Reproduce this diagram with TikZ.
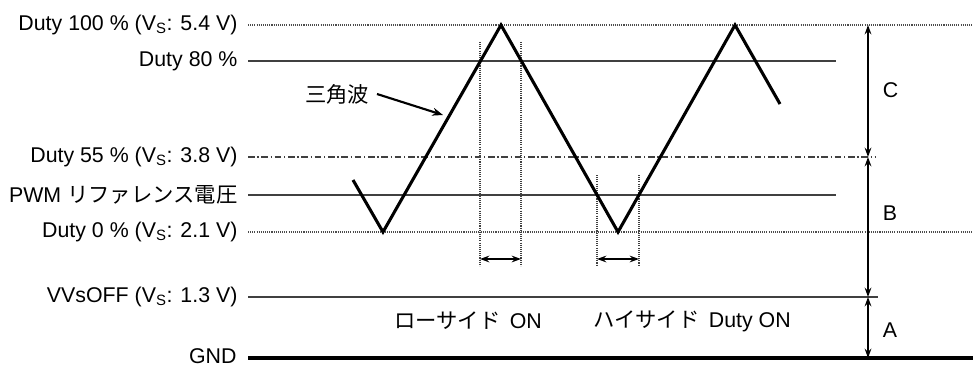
\documentclass[tikz,border=0pt]{standalone}
\usepackage{fontspec}
\setmainfont{Liberation Sans}
\newfontfamily\jp{Noto Sans CJK JP}
\usetikzlibrary{arrows.meta,positioning}

\tikzset{
  lbl/.style={anchor=east,inner sep=0pt,xshift=-7.5pt,text=black},
  lvl/.style={line width=0.9pt,black!75},
  dotlvl/.style={line width=0.9pt,black!70,dash pattern=on 0.8pt off 0.8pt},
  dashdotlvl/.style={line width=0.9pt,black!75,dash pattern=on 5pt off 2pt on 1pt off 2pt},
  guide/.style={line width=0.8pt,black!75,dash pattern=on 0.8pt off 0.8pt},
  wave/.style={line width=2.3pt,line join=miter},
  span/.style={line width=1.6pt,{Stealth[length=7pt,width=5pt]}-{Stealth[length=7pt,width=5pt]}},
  pointer/.style={line width=1.6pt,-{Stealth[length=8pt,width=6pt]}}
}

\begin{document}
\begin{tikzpicture}[x=0.75pt,y=-0.75pt,font=\fontsize{16}{19}\selectfont]
  \useasboundingbox (0,0) rectangle (973,367);
  % levels
  \draw[dotlvl] (248,25) node[lbl] (d100) {Duty 100 \% (V\textsubscript{S}: 5.4 V)} -- (973,25);
  \draw[lvl] (248,61) node[lbl] (d80) {Duty 80 \%} -- (836,61);
  \draw[dashdotlvl] (248,157) node[lbl] (d55) {Duty 55 \% (V\textsubscript{S}: 3.8 V)} -- (876,157);
  \draw[lvl] (248,195) node[lbl] (pwm) {PWM {\jp リファレンス電圧}} -- (836,195);
  \draw[dotlvl] (248,232) node[lbl] (d0) {Duty 0 \% (V\textsubscript{S}: 2.1 V)} -- (973,232);
  \draw[lvl] (248,297) node[lbl] (off) {VVsOFF (V\textsubscript{S}: 1.3 V)} -- (878,297);
  \draw[line width=2.3pt] (248,358) node[lbl,yshift=1.5pt] (gnd) {GND} -- (973,358);
  % guides
  \foreach \x in {480,521}{
    \draw[guide] (\x,42) -- (\x,266);
  }
  \foreach \x in {597,639}{
    \draw[guide] (\x,175) -- (\x,266);
  }
  % triangle wave
  \coordinate (w0) at (353,180);
  \coordinate (w1) at (383,232);
  \coordinate (w2) at (501,25);
  \coordinate (w3) at (618,232);
  \coordinate (w4) at (735,25);
  \coordinate (w5) at (780,104);
  \draw[wave] (w0) -- (w1) -- (w2) -- (w3) -- (w4) -- (w5);
  \node[anchor=east,inner sep=0pt,outer xsep=6pt] (tri) at (377,94) {\jp 三角波};
  \coordinate (tritip) at (443,115);
  \draw[pointer] (tri.east) -- (tritip);
  % on times
  \coordinate (lo1) at (480,259);
  \coordinate (lo2) at (521,259);
  \coordinate (hi1) at (597,259);
  \coordinate (hi2) at (639,259);
  \draw[span] (lo1) -- (lo2);
  \draw[span] (hi1) -- (hi2);
  \node (lotxt) at (468,321) {{\jp ローサイド}\, ON};
  \node (hitxt) at (692,321) {{\jp ハイサイド}\, Duty ON};
  % ranges
  \coordinate (c100) at (868,25);
  \coordinate (c55) at (868,157);
  \coordinate (coff) at (868,297);
  \coordinate (cgnd) at (868,358);
  \draw[span] (c100) -- node[pos=0.49,right=7pt] (rc) {C} (c55);
  \draw[span] (c55) -- node[pos=0.4,right=7pt] (rb) {B} (coff);
  \draw[span] (coff) -- node[pos=0.54,right=7pt] (ra) {A} (cgnd);
\end{tikzpicture}
\end{document}
